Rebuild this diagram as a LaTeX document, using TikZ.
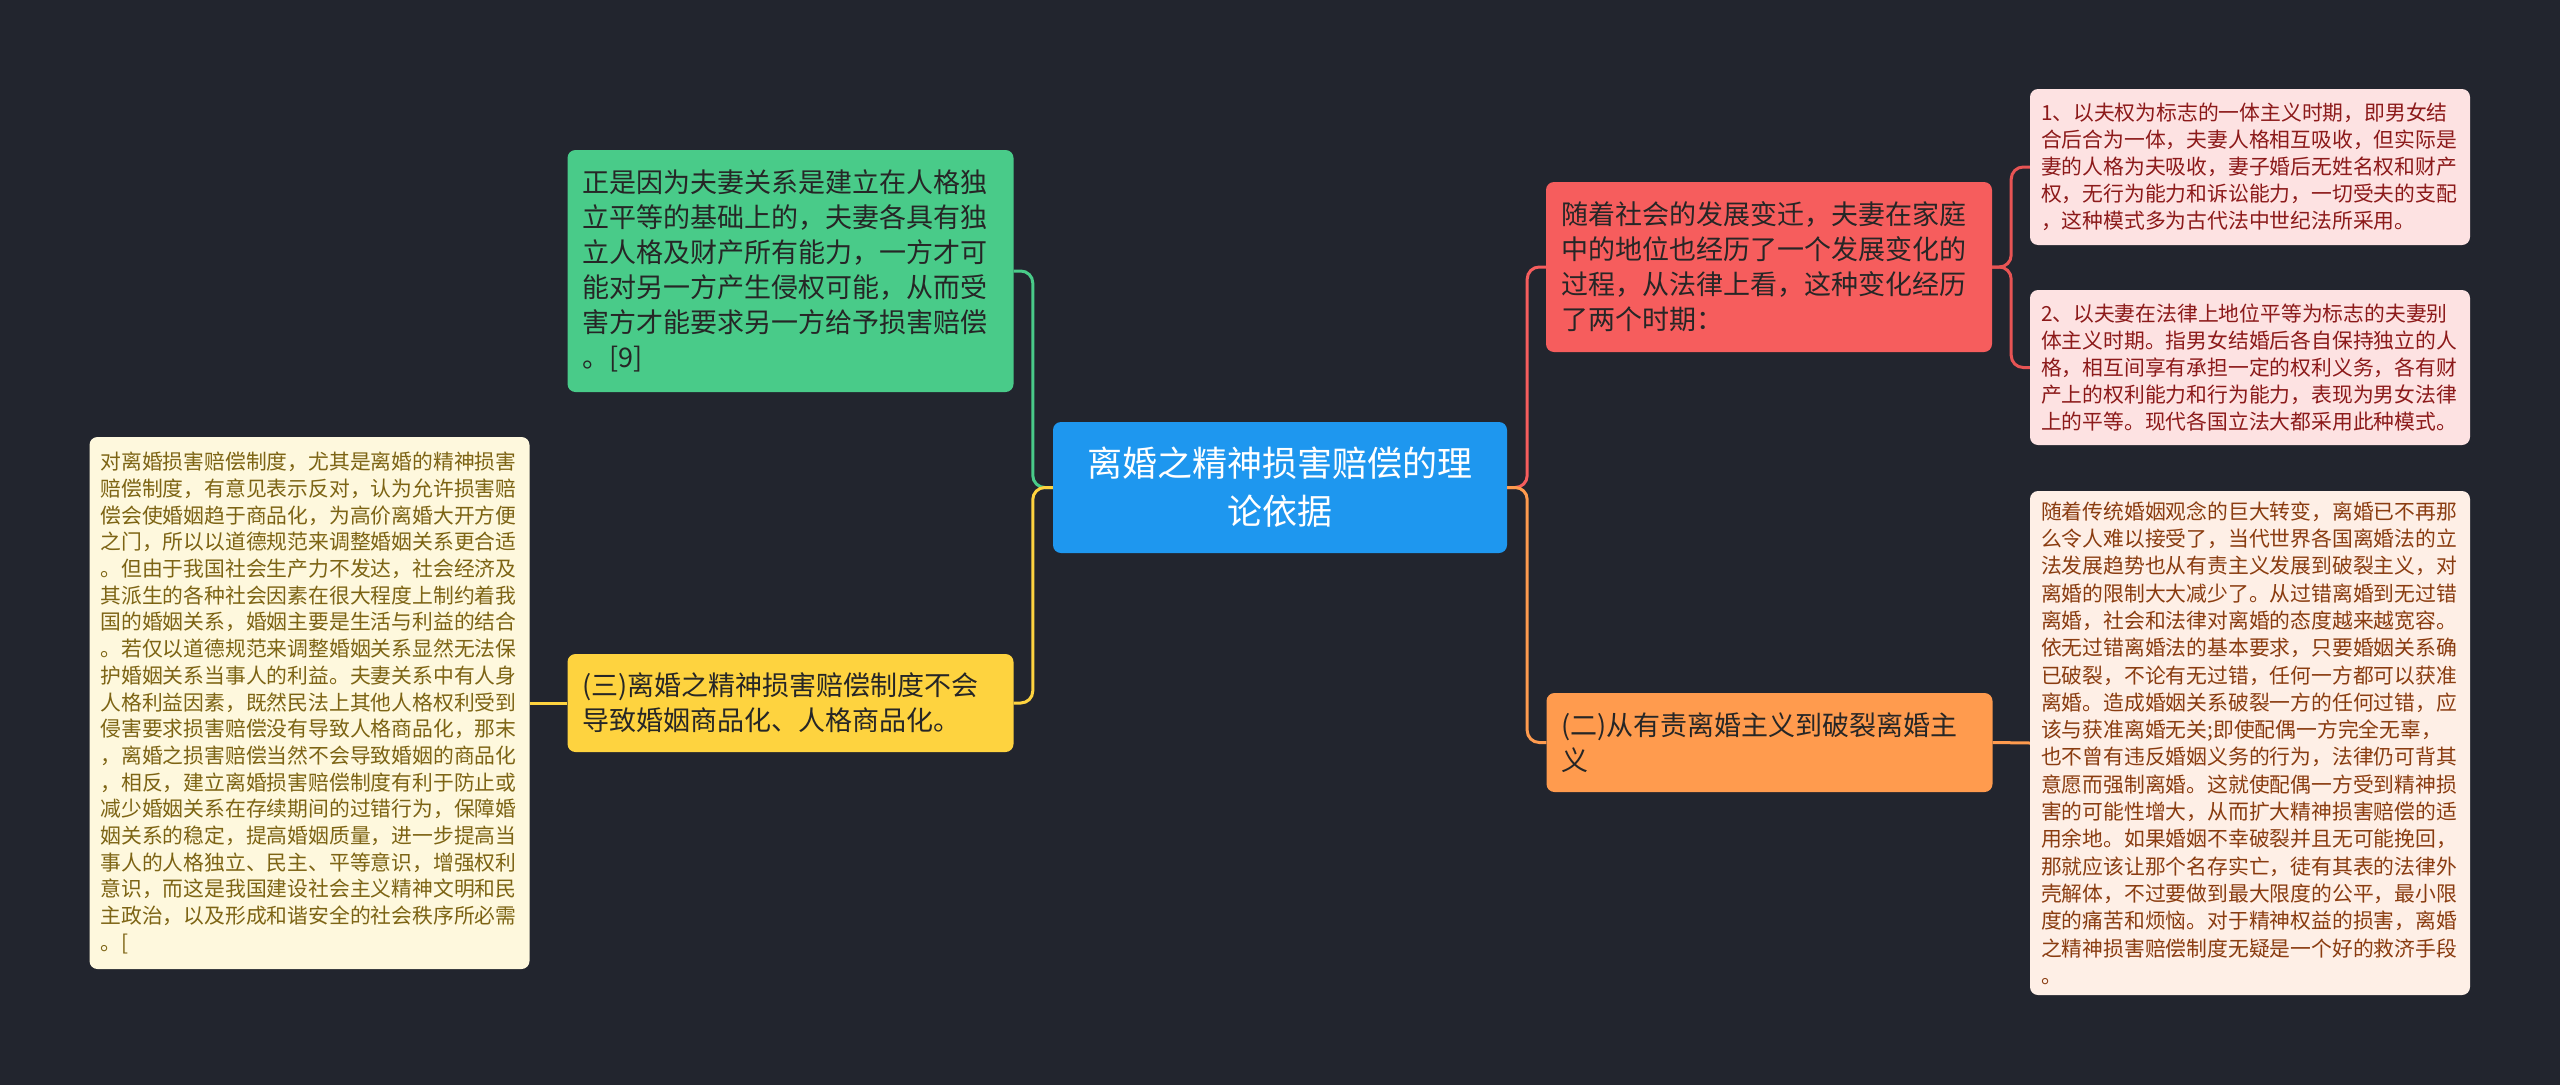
\documentclass[tikz,border=0pt]{standalone}
\usepackage{fontspec}
\setmainfont{Noto Sans CJK SC}
\definecolor{bg}{HTML}{22252E}
\definecolor{cblue}{HTML}{1E97EF}
\definecolor{cgreen}{HTML}{49CB89}
\definecolor{cyellow}{HTML}{FED33F}
\definecolor{cred}{HTML}{F65D5D}
\definecolor{corange}{HTML}{FF9B4E}
\definecolor{cpink}{HTML}{FDE2E2}
\definecolor{tpink}{HTML}{8C1A1A}
\definecolor{cpeach}{HTML}{FEEFE6}
\definecolor{tpeach}{HTML}{8A3C10}
\definecolor{ccream}{HTML}{FEF8DD}
\definecolor{tcream}{HTML}{7D6414}
\definecolor{tdark}{HTML}{262626}
\definecolor{lpink}{HTML}{E85454}
\begin{document}
\begin{tikzpicture}[x=1pt,y=-1pt,
  box/.style={rounded corners=8pt, align=left, anchor=center, inner ysep=0pt},
  big/.style={box, font=\fontsize{27pt}{35pt}\selectfont, text=tdark, inner xsep=15pt, text width=416pt},
  small/.style={box, font=\fontsize{20.8pt}{27pt}\selectfont, inner xsep=11pt, text width=418pt},
  conn/.style={line width=3pt, rounded corners=12pt}]
\fill[bg] (0,0) rectangle (2560,1085);
\useasboundingbox (0,0) rectangle (2560,1085);

\node[box, fill=cblue, text=white, align=center, minimum width=454pt, minimum height=131pt,
  font=\fontsize{35pt}{48pt}\selectfont] (c) at (1280,487.5)
  {离婚之精神损害赔偿的理\\论依据};

\node[big, fill=cgreen, minimum height=242pt] (g) at (790.5,271)
  {正是因为夫妻关系是建立在人格独\\立平等的基础上的，夫妻各具有独\\立人格及财产所有能力，一方才可\\能对另一方产生侵权可能，从而受\\害方才能要求另一方给予损害赔偿\\。[9]};

\node[big, fill=cyellow, minimum height=98pt] (y) at (790.5,703)
  {(三)离婚之精神损害赔偿制度不会\\导致婚姻商品化、人格商品化。};

\node[small, fill=ccream, text=tcream, minimum height=532pt, font=\fontsize{20.8pt}{26.7pt}\selectfont] (k) at (309.5,703)
  {对离婚损害赔偿制度，尤其是离婚的精神损害\\赔偿制度，有意见表示反对，认为允许损害赔\\偿会使婚姻趋于商品化，为高价离婚大开方便\\之门，所以以道德规范来调整婚姻关系更合适\\。但由于我国社会生产力不发达，社会经济及\\其派生的各种社会因素在很大程度上制约着我\\国的婚姻关系，婚姻主要是生活与利益的结合\\。若仅以道德规范来调整婚姻关系显然无法保\\护婚姻关系当事人的利益。夫妻关系中有人身\\人格利益因素，既然民法上其他人格权利受到\\侵害要求损害赔偿没有导致人格商品化，那末\\，离婚之损害赔偿当然不会导致婚姻的商品化\\，相反，建立离婚损害赔偿制度有利于防止或\\减少婚姻关系在存续期间的过错行为，保障婚\\姻关系的稳定，提高婚姻质量，进一步提高当\\事人的人格独立、民主、平等意识，增强权利\\意识，而这是我国建设社会主义精神文明和民\\主政治，以及形成和谐安全的社会秩序所必需\\。[};

\node[big, fill=cred, minimum height=170pt] (r) at (1769,267)
  {随着社会的发展变迁，夫妻在家庭\\中的地位也经历了一个发展变化的\\过程，从法律上看，这种变化经历\\了两个时期：};

\node[big, fill=corange, minimum height=99pt] (o) at (1769.5,742.5)
  {(二)从有责离婚主义到破裂离婚主\\义};

\node[small, fill=cpink, text=tpink, minimum height=156pt] (p1) at (2250,167)
  {1、以夫权为标志的一体主义时期，即男女结\\合后合为一体，夫妻人格相互吸收，但实际是\\妻的人格为夫吸收，妻子婚后无姓名权和财产\\权，无行为能力和诉讼能力，一切受夫的支配\\，这种模式多为古代法中世纪法所采用。};

\node[small, fill=cpink, text=tpink, minimum height=155pt] (p2) at (2250,367.5)
  {2、以夫妻在法律上地位平等为标志的夫妻别\\体主义时期。指男女结婚后各自保持独立的人\\格，相互间享有承担一定的权利义务，各有财\\产上的权利能力和行为能力，表现为男女法律\\上的平等。现代各国立法大都采用此种模式。};

\node[small, fill=cpeach, text=tpeach, minimum height=504pt, font=\fontsize{20.8pt}{27.3pt}\selectfont] (q) at (2250,743)
  {随着传统婚姻观念的巨大转变，离婚已不再那\\么令人难以接受了，当代世界各国离婚法的立\\法发展趋势也从有责主义发展到破裂主义，对\\离婚的限制大大减少了。从过错离婚到无过错\\离婚，社会和法律对离婚的态度越来越宽容。\\依无过错离婚法的基本要求，只要婚姻关系确\\已破裂，不论有无过错，任何一方都可以获准\\离婚。造成婚姻关系破裂一方的任何过错，应\\该与获准离婚无关;即使配偶一方完全无辜，\\也不曾有违反婚姻义务的行为，法律仍可背其\\意愿而强制离婚。这就使配偶一方受到精神损\\害的可能性增大，从而扩大精神损害赔偿的适\\用余地。如果婚姻不幸破裂并且无可能挽回，\\那就应该让那个名存实亡，徒有其表的法律外\\壳解体，不过要做到最大限度的公平，最小限\\度的痛苦和烦恼。对于精神权益的损害，离婚\\之精神损害赔偿制度无疑是一个好的救济手段\\。};

% connectors
\draw[conn, cgreen] (c.west) -- ++(-20,0) |- (g.east);
\draw[conn, cyellow] (c.west) -- ++(-20,0) |- (y.east);
\draw[conn, cyellow] (y.west) -- (k.east);
\draw[conn, cred] (c.east) -- ++(20,0) |- (r.west);
\draw[conn, corange] (c.east) -- ++(20,0) |- (o.west);
\draw[conn, lpink] (r.east) -- ++(19,0) |- (p1.west);
\draw[conn, lpink] (r.east) -- ++(19,0) |- (p2.west);
\draw[conn, corange] (o.east) -- (q.west);
\end{tikzpicture}
\end{document}
